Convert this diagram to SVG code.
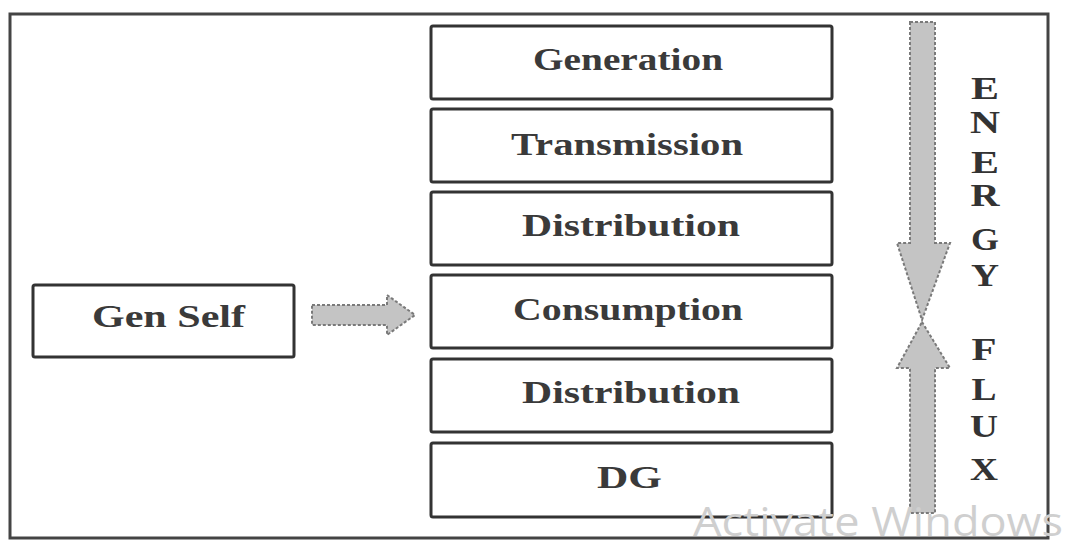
<svg xmlns="http://www.w3.org/2000/svg" width="1068" height="541" viewBox="0 0 1068 541">
<style>
.box{fill:#fff;stroke:#333;stroke-width:3}
.lbl{font-family:"Liberation Serif","Times New Roman",serif;font-weight:bold;font-size:32px;fill:#3a3a3a}
.ltr{font-family:"Liberation Serif","Times New Roman",serif;font-weight:bold;font-size:32px;fill:#333;text-anchor:middle}
.arr{fill:#c4c4c4;stroke:#7a7a7a;stroke-width:2;stroke-dasharray:3 2}
.wm{font-family:"Open Sans","Liberation Sans",sans-serif;font-size:40px;fill:#cfcfcf}
</style>
<rect width="1068" height="541" fill="#fff"/>
<rect x="10" y="14" width="1038" height="524" fill="none" stroke="#444" stroke-width="3"/>
<g id="gen-self"><rect class="box" x="33" y="285" width="261" height="72" rx="2"/><text class="lbl" x="92" y="327" textLength="153" lengthAdjust="spacingAndGlyphs">Gen Self</text></g>
<g id="generation"><rect class="box" x="431" y="26" width="401" height="73" rx="2"/><text class="lbl" x="533" y="70" textLength="190" lengthAdjust="spacingAndGlyphs">Generation</text></g>
<g id="transmission"><rect class="box" x="431" y="109" width="401" height="73" rx="2"/><text class="lbl" x="511" y="155" textLength="232" lengthAdjust="spacingAndGlyphs">Transmission</text></g>
<g id="distribution1"><rect class="box" x="431" y="192" width="401" height="73" rx="2"/><text class="lbl" x="522" y="236" textLength="218" lengthAdjust="spacingAndGlyphs">Distribution</text></g>
<g id="consumption"><rect class="box" x="431" y="275" width="401" height="73" rx="2"/><text class="lbl" x="513" y="320" textLength="230" lengthAdjust="spacingAndGlyphs">Consumption</text></g>
<g id="distribution2"><rect class="box" x="431" y="359" width="401" height="73" rx="2"/><text class="lbl" x="522" y="403" textLength="218" lengthAdjust="spacingAndGlyphs">Distribution</text></g>
<g id="dg"><rect class="box" x="431" y="443" width="401" height="74" rx="2"/><text class="lbl" x="597" y="488" textLength="65" lengthAdjust="spacingAndGlyphs">DG</text></g>
<g id="connectors">
<polygon class="arr" points="312,305 387,305 387,295 415,315 387,335 387,325 312,325"/>
<polygon class="arr" points="910,22 935,22 935,243 950,243 922,320 897,243 910,243"/>
<polygon class="arr" points="922,322 950,368 935,368 935,513 910,513 910,368 897,368"/>
</g>
<g id="energy-flux">
<text class="ltr" x="985" y="99" textLength="28" lengthAdjust="spacingAndGlyphs">E</text>
<text class="ltr" x="985" y="133" textLength="30" lengthAdjust="spacingAndGlyphs">N</text>
<text class="ltr" x="985" y="173" textLength="28" lengthAdjust="spacingAndGlyphs">E</text>
<text class="ltr" x="985" y="206" textLength="29" lengthAdjust="spacingAndGlyphs">R</text>
<text class="ltr" x="985" y="250" textLength="28" lengthAdjust="spacingAndGlyphs">G</text>
<text class="ltr" x="985" y="286" textLength="28" lengthAdjust="spacingAndGlyphs">Y</text>
<text class="ltr" x="984" y="360" textLength="25" lengthAdjust="spacingAndGlyphs">F</text>
<text class="ltr" x="984" y="400" textLength="25" lengthAdjust="spacingAndGlyphs">L</text>
<text class="ltr" x="984" y="437" textLength="28" lengthAdjust="spacingAndGlyphs">U</text>
<text class="ltr" x="984" y="480" textLength="28" lengthAdjust="spacingAndGlyphs">X</text>
</g>
<text class="wm" x="693" y="536" textLength="370" lengthAdjust="spacingAndGlyphs">Activate Windows</text>
</svg>
